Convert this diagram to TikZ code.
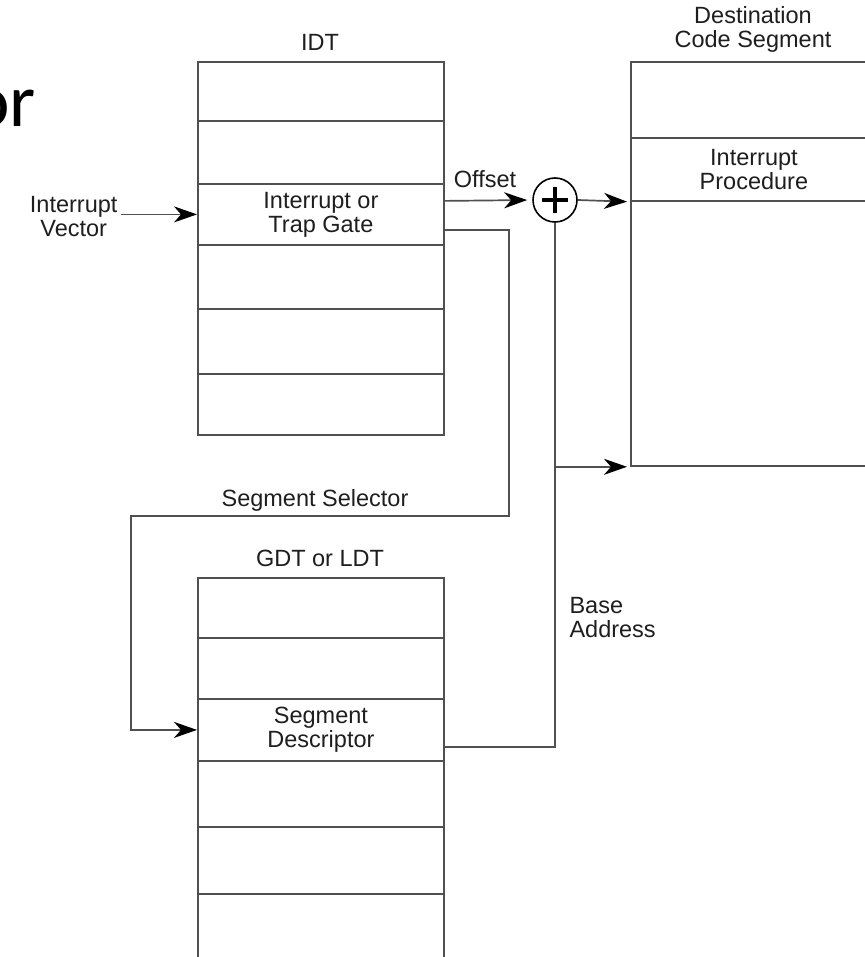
\documentclass[tikz,border=0pt]{standalone}
\usepackage{fontspec}
\setmainfont{Liberation Sans}
\newfontfamily\titlefont{Carlito}
\usetikzlibrary{arrows.meta}
\definecolor{ink}{HTML}{1E1E1E}
\definecolor{linegray}{HTML}{505050}
\begin{document}
\begin{tikzpicture}[x=1pt,y=-1pt,
  every node/.style={text=ink, font=\fontsize{23.5}{24}\selectfont, align=center},
  cell/.style={draw=linegray, line width=1.8pt, minimum width=246pt, inner sep=0pt, anchor=north west},
  link/.style={draw=linegray, line width=1.7pt},
  tip/.style={-{Stealth[length=23pt,width=16pt,inset=7pt,color=black]}}
]
\useasboundingbox (0,0) rectangle (864,957);

% fragment of a heading cut off at the left edge
\node[anchor=base east, font=\titlefont\fontsize{75}{75}\selectfont, text=black, inner sep=0pt] (orfrag) at (36,127) {or};

% IDT
\node (idtlbl) at (320,42) {IDT};
\node[cell, minimum height=59pt] (i1) at (197,61) {};
\node[cell, minimum height=63pt] (i2) at (197,120) {};
\node[cell, minimum height=61pt] (gate) at (197,183) {Interrupt or\\Trap Gate};
\node[cell, minimum height=64pt] (i4) at (197,244) {};
\node[cell, minimum height=65pt] (i5) at (197,308) {};
\node[cell, minimum height=61pt] (i6) at (197,373) {};

% GDT or LDT
\node (gdtlbl) at (320,558) {GDT or LDT};
\node[cell, minimum height=60pt] (g1) at (197,577) {};
\node[cell, minimum height=61pt] (g2) at (197,637) {};
\node[cell, minimum height=62pt] (desc) at (197,698) {Segment\\Descriptor};
\node[cell, minimum height=66pt] (g4) at (197,760) {};
\node[cell, minimum height=67pt] (g5) at (197,826) {};
\node[cell, minimum height=90pt] (g6) at (197,893) {};

% Destination code segment
\node (cslbl) at (753,29) {Destination\\Code Segment};
\node[cell, minimum height=76pt] (cs1) at (630,61) {};
\node[cell, minimum height=63pt] (proc) at (630,137) {Interrupt\\Procedure};
\node[cell, minimum height=265pt] (cs3) at (630,200) {};

% adder
\node[draw=black, line width=1.6pt, circle, minimum size=44pt, inner sep=0pt] (plus) at (555,200) {};
\draw[black, line width=3.2pt] ([xshift=-13pt]plus.center) -- ([xshift=13pt]plus.center)
  ([yshift=-13pt]plus.center) -- ([yshift=13pt]plus.center);

% interrupt vector into the IDT
\node[anchor=east] (vec) at (121,217) {Interrupt\\Vector};
\draw[link, tip] (vec.east |- gate.west) -- (gate.west);

% offset into the adder, adder into the procedure
\draw[link, tip, shorten >=5pt] ([yshift=13.5pt]gate.east) -- (plus.west);
\node (offlbl) at (485,179) {Offset};
\draw[link, tip, shorten >=3pt] (plus.east) -- (proc.south west);

% segment selector to the descriptor
\coordinate (selR) at (509,516);
\coordinate (selL) at (131,516);
\node (sellbl) at (315,500) {Segment Selector};
\draw[link, tip] ([yshift=-15.5pt]gate.east) -| (selR) -- (selL) |- (desc.west);

% base address up to the adder
\draw[link] ([yshift=-17pt]desc.east) -| (plus.south);
\node[anchor=west, align=left] (baselbl) at (566,618) {Base\\Address};
\coordinate (tap) at (plus.south |- cs3.south west);
\draw[link, tip, shorten >=3pt] (tap) -- (cs3.south west);
\end{tikzpicture}
\end{document}
